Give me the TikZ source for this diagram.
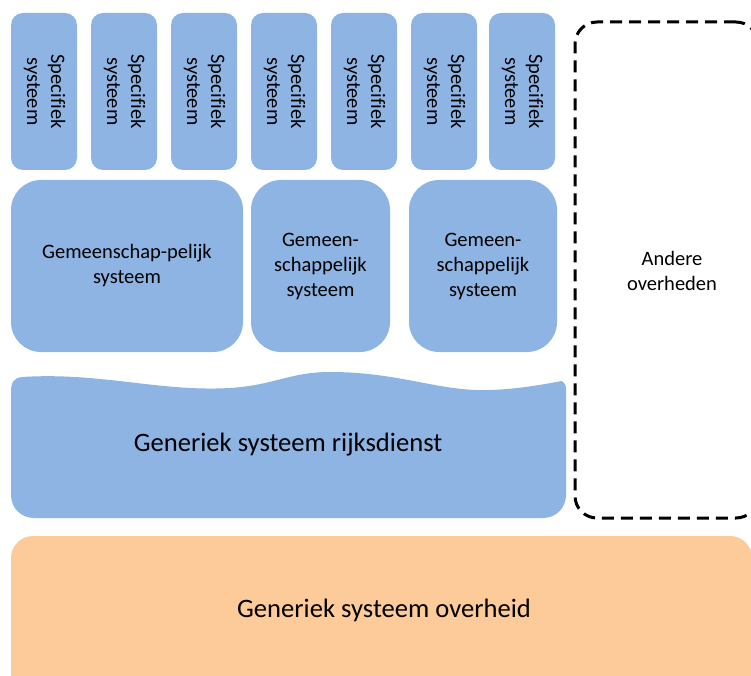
\documentclass[tikz,border=0pt]{standalone}
\usepackage{fontspec}
\setmainfont[Ligatures=NoCommon]{Carlito}
\definecolor{blu}{HTML}{8EB4E3}
\definecolor{ora}{HTML}{FDCB99}
\begin{document}
\begin{tikzpicture}[x=1pt,y=-1pt,
  specbox/.style={fill=blu,rounded corners=12pt,minimum width=66pt,minimum height=157pt,inner sep=0pt,font=\fontsize{20.5}{24}\selectfont},
  midbox/.style={fill=blu,rounded corners=30pt,minimum height=172pt,inner sep=0pt,align=center,font=\fontsize{20.5}{25}\selectfont},
  bigtxt/.style={font=\fontsize{26.6}{31}\selectfont,inner sep=0pt},
  dashbox/.style={draw=black,line width=3pt,dash pattern=on 12pt off 7pt,rounded corners=22pt,minimum width=183pt,minimum height=496pt,inner sep=0pt},
  smalltxt/.style={align=center,font=\fontsize{20.5}{25}\selectfont,inner sep=0pt}]
\useasboundingbox (0,0) rectangle (751,676);
% top row
\foreach \i/\x in {1/44,2/124,3/204,4/284,5/364,6/444,7/522}{
  \node[specbox] (s\i) at (\x,91.5) {\rotatebox{-90}{\begin{tabular}{@{}c@{}}Specifiek\\systeem\end{tabular}}};
}
% middle row
\node[midbox,minimum width=232pt] (ga) at (127,266) {Gemeenschap-pelijk\\systeem};
\node[midbox,minimum width=139pt] (gb) at (320.5,266) {Gemeen-\\schappelijk\\systeem};
\node[midbox,minimum width=148pt] (gc) at (483,266) {Gemeen-\\schappelijk\\systeem};
% wavy generic box
\fill[blu] (11,392) .. controls (11,382) and (14,378) .. (22,377)
  .. controls (100,372) and (160,392) .. (230,388)
  .. controls (275,385) and (290,372) .. (330,372)
  .. controls (400,372) and (440,392) .. (490,390)
  .. controls (520,389) and (545,384) .. (562,381)
  .. controls (565,383) and (566,385) .. (566,390)
  -- (566,495) .. controls (566,508) and (556,518) .. (543,518)
  -- (34,518) .. controls (21,518) and (11,508) .. (11,495) -- cycle;
\node[bigtxt] (rijk) at (288,445) {Generiek systeem rijksdienst};
% dashed box
\node[dashbox] (and) at (666.5,270) {};
\node[smalltxt] (andt) at (672,271) {Andere\\overheden};
% orange base
\node[fill=ora,rounded corners=22pt,minimum width=741pt,minimum height=170pt,inner sep=0pt] (ov) at (381.5,621) {};
\node[bigtxt] (ovt) at (384,610) {Generiek systeem overheid};
\end{tikzpicture}
\end{document}
